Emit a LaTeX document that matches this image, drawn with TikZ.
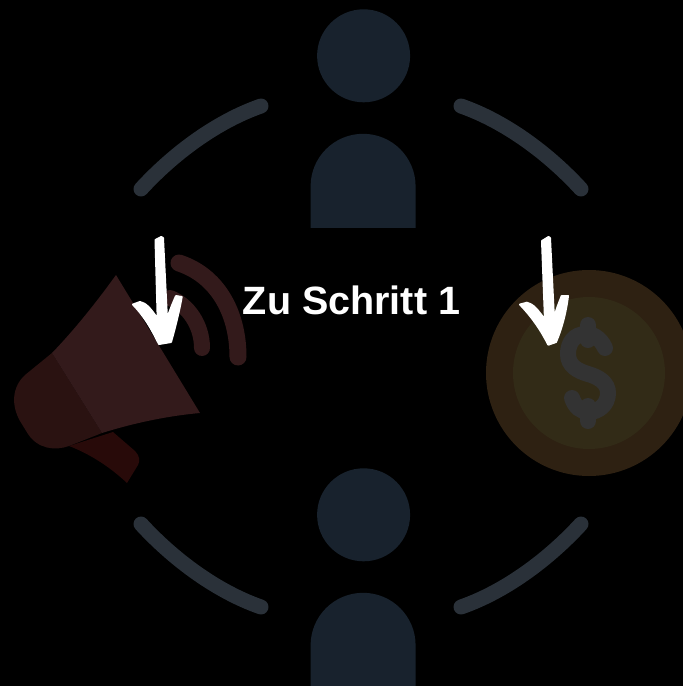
\documentclass[tikz,border=0pt]{standalone}
\usepackage{fontspec}
\setmainfont{Liberation Sans}
\definecolor{personc}{HTML}{18222D}
\definecolor{arcc}{HTML}{2A3139}
\definecolor{conec}{HTML}{331A1B}
\definecolor{darkc}{HTML}{2A1211}
\definecolor{handlec}{HTML}{280A09}
\definecolor{coinout}{HTML}{2E2112}
\definecolor{coinin}{HTML}{322B17}
\definecolor{dollarc}{HTML}{333333}
\tikzset{
  ring/.style={draw=arcc,line width=15pt,line cap=round},
  wave/.style={draw=conec,line cap=round},
  dollar/.style={draw=dollarc,line width=16pt,line cap=round},
  pen/.style={fill=white,draw=white,line width=2pt,line join=round},
  person/.pic={
    \fill[personc] (0,56) circle[radius=46.5];
    \fill[personc] (-53,228) -- (-53,186.5) arc[start angle=180,end angle=360,radius=52.5] -- (52,228) -- cycle;
  }
}
\begin{document}
\begin{tikzpicture}[x=1pt,y=-1pt]
\fill[black] (0,0) rectangle (683,686);
\useasboundingbox (0,0) rectangle (683,686);
% persons
\pic at (363.6,-0.2) {person};
\pic at (363.6,458.8) {person};
% ring arcs
\draw[ring] (141,189) .. controls (175,152) and (218,121) .. (261,106);
\draw[ring] (581,189) .. controls (547,152) and (504,121) .. (461,106);
\draw[ring] (141,524) .. controls (175,561) and (218,592) .. (261,607);
\draw[ring] (581,524) .. controls (547,561) and (504,592) .. (461,607);
% coin
\fill[coinout] (589,373) circle[radius=103];
\fill[coinin] (589,373) circle[radius=76];
\draw[dollar] (605,348) .. controls (600,337) and (592,334) .. (586,334) .. controls (574,334) and (568,343) .. (568,354) .. controls (568,366) and (578,371) .. (588,374) .. controls (599,377) and (608,383) .. (608,393) .. controls (608,405) and (598,412) .. (589,412) .. controls (581,412) and (575,407) .. (572,398);
\draw[dollar] (588,325) -- (588,340);
\draw[dollar] (588,406) -- (588,421);
% megaphone
\fill[handlec] (69,446) -- (113,432) -- (135,451) .. controls (140,456) and (140,461) .. (138,465) -- (127,483) .. controls (110,467) and (90,454) .. (69,446) -- cycle;
\fill[darkc] (52,353) -- (25,375) .. controls (12,387) and (11,405) .. (20,421) -- (28,434) .. controls (38,449) and (55,451) .. (69,446) -- (102,433) -- cycle;
\fill[conec] (116,275) .. controls (95,304) and (75,329) .. (52,353) -- (102,433) .. controls (134,423) and (167,416) .. (200,413) -- cycle;
\draw[wave,line width=17pt] (179,263) .. controls (216,275) and (238,311) .. (238,357);
\draw[wave,line width=16pt] (170,298) .. controls (188,305) and (202,325) .. (202,348);
% white arrows
\fill[pen] (161.2,237) -- (155.5,240) -- (157.7,319) .. controls (151,309) and (146,303) .. (140,302) -- (133,304.5) .. controls (146,318) and (153,332) .. (159,344) -- (171,342) .. controls (175,328) and (179,312) .. (181.7,297) -- (176,296) .. controls (173,303) and (170,310) .. (167,319) -- (163,238) -- cycle;
\fill[pen] (548.5,237) -- (542,241) -- (545,320) .. controls (538,310) and (533,304) .. (527,302.7) -- (520,304.5) .. controls (533,318) and (542,332) .. (548.3,344.7) -- (556,342) .. controls (562,328) and (566,312) .. (568,296) -- (561.7,296) .. controls (559,303) and (556,310) .. (554,319) -- (550,238) -- cycle;
% label
\node[text=white,font=\bfseries\fontsize{39.5}{48}\selectfont,inner sep=0pt,anchor=center] (label) at (351.5,300.5) {Zu Schritt 1};
\end{tikzpicture}
\end{document}
